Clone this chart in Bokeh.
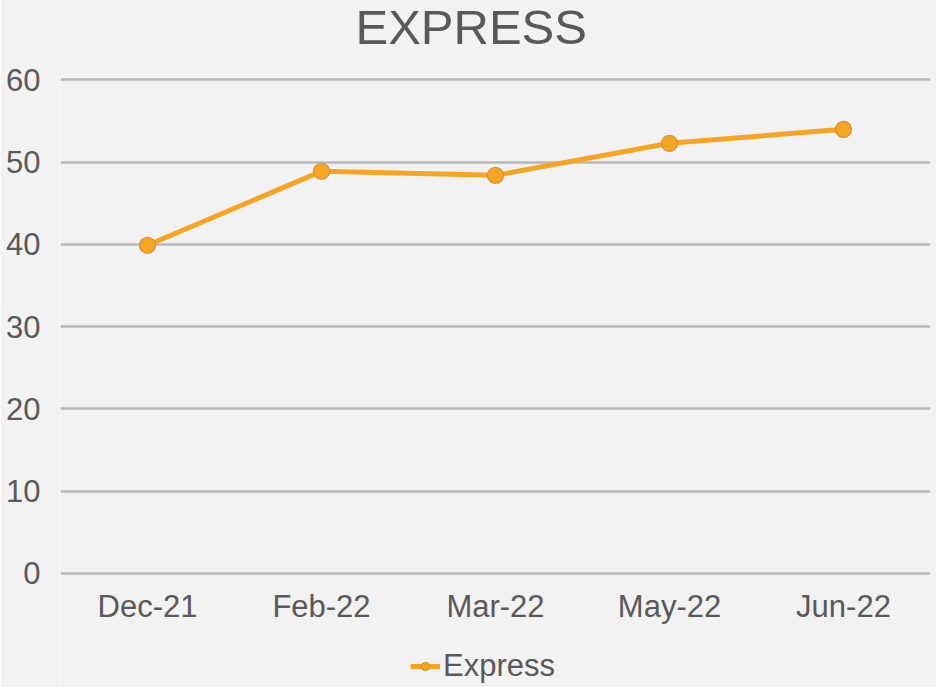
from bokeh.plotting import figure
from bokeh.models import Range1d, FactorRange, Legend, LegendItem, FixedTicker
from bokeh.embed import file_html
from bokeh.resources import INLINE

categories = ["Dec-21", "Feb-22", "Mar-22", "May-22", "Jun-22"]
values = [39.9, 48.9, 48.4, 52.3, 54.0]
y_ticks = [0, 10, 20, 30, 40, 50, 60]
series_name = "Express"
title_text = "EXPRESS"

BG = "#f2f2f2"
TXT = "#595959"
GRID = "#b8b8b8"
ORANGE = "#f6a523"
EDGE = "#d8902a"
FONT = "Liberation Sans"

p = figure(
    frame_width=870, frame_height=610,
    x_range=FactorRange(*categories, range_padding=0),
    y_range=Range1d(-13.88, 60.3),
    output_backend="svg", toolbar_location=None,
    background_fill_color=BG, border_fill_color=BG,
    min_border_left=60, min_border_right=6, min_border_top=0, min_border_bottom=0,
    margin=(-23, 0, 0, 0),
)
p.outline_line_color = None

p.title.text = title_text
p.title.align = "left"
p.title.vertical_align = "top"
p.title.offset = 295
p.title.text_font = FONT
p.title.text_font_size = "49px"
p.title.text_font_style = "normal"
p.title.text_color = TXT
p.title.text_line_height = 1.0
p.title.standoff = 44

p.line(categories, values, line_color=ORANGE, line_width=5)
line_r = p.renderers[-1]
p.scatter(categories, values, size=16, fill_color=ORANGE, line_color=EDGE, line_width=1.2)
mark_r = p.renderers[-1]

p.yaxis.ticker = FixedTicker(ticks=y_ticks)
p.ygrid.ticker = FixedTicker(ticks=y_ticks)
p.ygrid.grid_line_color = GRID
p.ygrid.grid_line_width = 2.5
p.xgrid.grid_line_color = None

for ax in (p.xaxis[0], p.yaxis[0]):
    ax.major_tick_line_color = None
    ax.minor_tick_line_color = None
    ax.major_label_text_font = FONT
    ax.major_label_text_font_size = "31px"
    ax.major_label_text_color = TXT
p.yaxis.axis_line_color = None
p.yaxis.major_label_standoff = 14
p.xaxis.axis_line_color = None
p.xaxis.fixed_location = 0
p.xaxis.major_label_standoff = 10

legend = Legend(items=[LegendItem(label=series_name, renderers=[line_r, mark_r])],
                location=(350, 3), orientation="horizontal",
                label_text_font=FONT, label_text_font_size="31px", label_text_color=TXT,
                label_text_line_height=1.0, label_height=20,
                background_fill_alpha=0, border_line_color=None,
                glyph_width=30, label_standoff=3, margin=0, padding=0)
p.add_layout(legend, "center")

open("out.html", "w").write(file_html(p, INLINE))
